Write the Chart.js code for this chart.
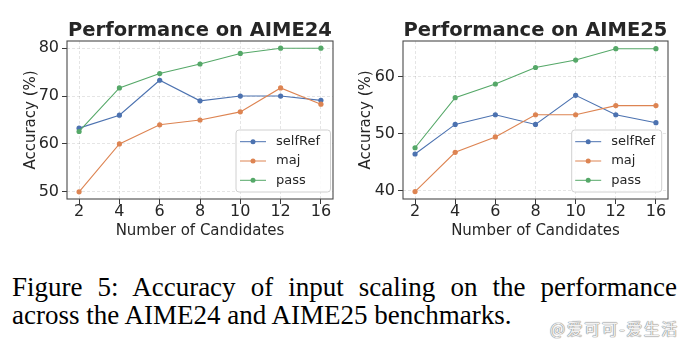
<!DOCTYPE html>
<html>
<head>
<meta charset="utf-8">
<script src="https://cdn.jsdelivr.net/npm/chart.js@4.4.1/dist/chart.umd.min.js"></script>
<style>
  html, body { margin: 0; padding: 0; background: #ffffff; }
  #wrap { position: relative; width: 692px; height: 341px; overflow: hidden; background: #fff; }
  canvas { position: absolute; top: 0; }
  #c24 { left: 0; }
  #c25 { left: 346px; }
  #cap { position: absolute; left: 12px; top: 273px; width: 665px; font-family: 'Liberation Serif', 'Times New Roman', serif; font-size: 27px; line-height: 28px; color: #000; }
  #l1 { text-align: justify; text-align-last: justify; white-space: nowrap; }
  #l2 { text-align: left; white-space: nowrap; }
  #wm { position: absolute; left: 550px; top: 318px; font-family: 'Noto Sans CJK SC', sans-serif; font-size: 16px; line-height: 20px; letter-spacing: 1.5px; color: #f2f2f2; text-shadow: 0 0 1px #8a8a8a, 0 0 1px #8a8a8a, 0 0 1px #8a8a8a; white-space: nowrap; }
</style>
</head>
<body>
<div id="wrap">
  <canvas id="c24" width="346" height="250"></canvas>
  <canvas id="c25" width="346" height="250"></canvas>
  <div id="cap">
    <div id="l1">Figure 5: Accuracy of input scaling on the performance</div>
    <div id="l2">across the AIME24 and AIME25 benchmarks.</div>
  </div>
  <div id="wm">@爱可可-爱生活</div>
</div>
<script>
// ---- data ----
const categories = ['2', '4', '6', '8', '10', '12', '16'];
const seriesNames = ['selfRef', 'maj', 'pass'];
const selfRef24 = [63.3, 66.0, 73.3, 69.0, 70.0, 70.0, 69.1];
const maj24     = [50.0, 60.0, 64.0, 65.0, 66.7, 71.7, 68.3];
const pass24    = [62.6, 71.7, 74.7, 76.7, 78.9, 80.0, 80.0];
const selfRef25 = [46.4, 51.6, 53.3, 51.6, 56.7, 53.3, 51.9];
const maj25     = [39.8, 46.7, 49.4, 53.3, 53.3, 54.9, 54.9];
const pass25    = [47.5, 56.3, 58.7, 61.6, 62.9, 64.9, 64.9];
const yTicks24 = [50, 60, 70, 80];
const yTicks25 = [40, 50, 60];

const colors = ['#4C72B0', '#DD8452', '#55A868'];
const textColor = '#262626';

Chart.defaults.font.family = "'DejaVu Sans', sans-serif";
Chart.defaults.color = textColor;

const framePlugin = {
  id: 'frame',
  afterDatasetsDraw(chart) {
    const a = chart.chartArea, ctx = chart.ctx;
    ctx.save();
    ctx.strokeStyle = '#4a4a4a';
    ctx.lineWidth = 1.1;
    ctx.setLineDash([]);
    ctx.strokeRect(a.left, a.top, a.right - a.left, a.bottom - a.top);
    ctx.restore();
  }
};

const legendPlugin = {
  id: 'boxLegend',
  afterDraw(chart, args, o) {
    const ctx = chart.ctx;
    ctx.save();
    const r = 3;
    const x = o.x, y = o.y, w = o.w, h = o.h;
    ctx.beginPath();
    ctx.moveTo(x + r, y);
    ctx.arcTo(x + w, y, x + w, y + h, r);
    ctx.arcTo(x + w, y + h, x, y + h, r);
    ctx.arcTo(x, y + h, x, y, r);
    ctx.arcTo(x, y, x + w, y, r);
    ctx.closePath();
    ctx.fillStyle = 'rgba(255,255,255,0.85)';
    ctx.fill();
    ctx.strokeStyle = '#d0d0d0';
    ctx.lineWidth = 1;
    ctx.stroke();
    ctx.font = "13px 'DejaVu Sans'";
    ctx.textBaseline = 'middle';
    ctx.textAlign = 'left';
    chart.data.datasets.forEach((ds, i) => {
      const cy = y + o.firstRow + i * o.rowStep;
      const lx = x + o.lineInset;
      ctx.strokeStyle = ds.borderColor;
      ctx.lineWidth = 1;
      ctx.beginPath();
      ctx.moveTo(lx, cy);
      ctx.lineTo(lx + 26, cy);
      ctx.stroke();
      ctx.fillStyle = ds.borderColor;
      ctx.beginPath();
      ctx.arc(lx + 13, cy, 2.5, 0, Math.PI * 2);
      ctx.fill();
      ctx.fillStyle = textColor;
      ctx.fillText(ds.label, lx + 36, cy);
    });
    ctx.restore();
  }
};

function makeChart(id, title, series, yMin, yMax, yTicks, L) {
  const datasets = series.map((vals, si) => ({
    label: seriesNames[si],
    data: vals.map((v, i) => ({ x: i, y: v })),
    borderColor: colors[si],
    backgroundColor: colors[si],
    borderWidth: 1.1,
    pointRadius: 2.6,
    pointBorderWidth: 0,
    pointBackgroundColor: colors[si],
    tension: 0,
    order: 3 - si
  }));
  return new Chart(document.getElementById(id), {
    type: 'line',
    data: { datasets },
    options: {
      responsive: false,
      animation: false,
      devicePixelRatio: 1,
      layout: { padding: { left: 0, top: 0, bottom: 0, right: L.padRight } },
      plugins: {
        legend: { display: false },
        tooltip: { enabled: false },
        title: {
          display: true,
          text: title,
          fullSize: false,
          color: textColor,
          font: { size: 19.5, weight: 'bold', lineHeight: 1 },
          padding: { top: 21, bottom: 0.5 }
        },
        boxLegend: L.legend
      },
      scales: {
        x: {
          type: 'linear',
          min: -0.3,
          max: categories.length - 1 + 0.3,
          afterBuildTicks: s => { s.ticks = categories.map((c, i) => ({ value: i })); },
          afterFit: s => { s.height = 51; },
          ticks: {
            autoSkip: false,
            maxRotation: 0,
            padding: 0,
            color: textColor,
            font: { size: 16, lineHeight: 1 },
            callback: v => categories[v] ?? ''
          },
          grid: {
            color: 'rgba(0,0,0,0.13)',
            lineWidth: 0.8,
            tickColor: '#3a3a3a',
            tickLength: 5,
            tickWidth: 1,
            tickBorderDash: []
          },
          border: { display: false, dash: [3, 2] },
          title: {
            display: true,
            text: 'Number of Candidates',
            color: textColor,
            font: { size: 15 },
            padding: { top: 0, bottom: 10.3 }
          }
        },
        y: {
          min: yMin,
          max: yMax,
          afterBuildTicks: s => { s.ticks = yTicks.map(v => ({ value: v })); },
          afterFit: s => { s.width = L.yWidth; },
          ticks: {
            padding: 3,
            color: textColor,
            font: { size: 16, lineHeight: 1 }
          },
          grid: {
            color: 'rgba(0,0,0,0.13)',
            lineWidth: 0.8,
            tickColor: '#3a3a3a',
            tickLength: 5,
            tickWidth: 1,
            tickBorderDash: []
          },
          border: { display: false, dash: [3, 2] },
          title: {
            display: true,
            text: 'Accuracy (%)',
            color: textColor,
            font: { size: 15 },
            padding: { top: L.yTitlePad, bottom: 0 }
          }
        }
      }
    },
    plugins: [framePlugin, legendPlugin]
  });
}

makeChart('c24', 'Performance on AIME24', [selfRef24, maj24, pass24], 48.5, 81.5, yTicks24, {
  padRight: 13, yWidth: 67, yTitlePad: 21.7,
  legend: { x: 236, y: 130, w: 94.5, h: 62, firstRow: 11.7, rowStep: 19.3, lineInset: 4 }
});
makeChart('c25', 'Performance on AIME25', [selfRef25, maj25, pass25], 38.5, 66.25, yTicks25, {
  padRight: 24, yWidth: 57, yTitlePad: 11,
  legend: { x: 225.7, y: 130, w: 90, h: 62, firstRow: 11.7, rowStep: 19.3, lineInset: 3.5 }
});
</script>
</body>
</html>
